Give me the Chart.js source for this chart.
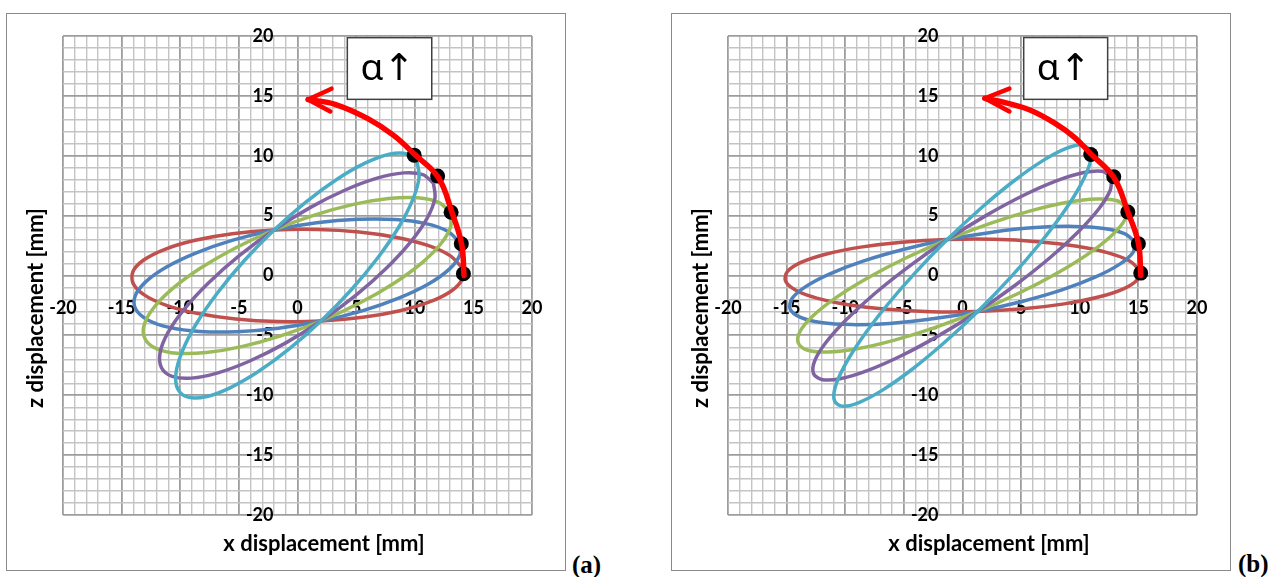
<!DOCTYPE html>
<html>
<head>
<meta charset="utf-8">
<script src="https://cdn.jsdelivr.net/npm/chart.js@4.4.1/dist/chart.umd.min.js"></script>
<style>
  body { margin: 0; background: #fff; width: 1278px; height: 577px; position: relative; overflow: hidden; }
  .panel { position: absolute; top: 13px; width: 560px; height: 558px; }
  .tag { position: absolute; font: bold 25px "Liberation Serif", serif; color: #000; line-height: 25px; }
</style>
</head>
<body>
<div class="panel" style="left:6px"><canvas id="chartA" width="560" height="558"></canvas></div>
<div class="panel" style="left:671px"><canvas id="chartB" width="560" height="558"></canvas></div>
<div class="tag" style="left:572px; top:552px">(a)</div>
<div class="tag" style="left:1238px; top:551px">(b)</div>
<script>
// tick labels on both axes
const xTickLabels = [-20, -15, -10, -5, 0, 5, 10, 15, 20];
const zTickLabels = [20, 15, 10, 5, 0, -5, -10, -15, -20];

// panel (a) loops, [x, z] in mm
const redA = [[14.0,0.7],[13.01,1.66],[11.12,2.51],[8.48,3.18],[5.27,3.64],[1.69,3.85],[-2.0,3.8],[-5.56,3.49],[-8.73,2.94],[-11.31,2.19],[-13.12,1.29],[-14.04,0.31],
    [-14.0,-0.7],[-13.01,-1.66],[-11.12,-2.51],[-8.48,-3.18],[-5.27,-3.64],[-1.69,-3.85],[2.0,-3.8],[5.56,-3.49],[8.73,-2.94],[11.31,-2.19],[13.12,-1.29],[14.04,-0.31],[14.0,0.7]];
const blueA = [[13.8,2.8],[12.81,3.69],[10.95,4.33],[8.34,4.67],[5.17,4.69],[1.64,4.40],[-2.0,3.8],[-5.51,2.95],[-8.63,1.89],[-11.17,0.71],[-12.95,-0.53],[-13.85,-1.72],
    [-13.8,-2.8],[-12.81,-3.69],[-10.95,-4.33],[-8.34,-4.67],[-5.17,-4.69],[-1.64,-4.40],[2.0,-3.8],[5.51,-2.95],[8.63,-1.89],[11.17,-0.71],[12.95,0.53],[13.85,1.72],[13.8,2.8]];
const greenA = [[13.0,5.3],[12.04,6.10],[10.26,6.49],[7.78,6.43],[4.77,5.94],[1.44,5.04],[-2.0,3.8],[-5.30,2.30],[-8.23,0.64],[-10.61,-1.06],[-12.26,-2.69],[-13.08,-4.14],
    [-13.0,-5.3],[-12.04,-6.10],[-10.26,-6.49],[-7.78,-6.43],[-4.77,-5.94],[-1.44,-5.04],[2.0,-3.8],[5.30,-2.30],[8.23,-0.64],[10.61,1.06],[12.26,2.69],[13.08,4.14],[13.0,5.3]];
const purpleA = [[11.6,7.7],[10.69,8.42],[9.05,8.57],[6.79,8.13],[4.07,7.14],[1.07,5.67],[-2.0,3.8],[-4.94,1.68],[-7.53,-0.56],[-9.62,-2.76],[-11.05,-4.77],[-11.72,-6.45],
    [-11.6,-7.7],[-10.69,-8.42],[-9.05,-8.57],[-6.79,-8.13],[-4.07,-7.14],[-1.07,-5.67],[2.0,-3.8],[4.94,-1.68],[7.53,0.56],[9.62,2.76],[11.05,4.77],[11.72,6.45],[11.6,7.7]];
const cyanA = [[10.2,9.5],[9.34,10.16],[7.83,10.13],[5.80,9.40],[3.37,8.04],[0.71,6.13],[-2.0,3.8],[-4.57,1.21],[-6.83,-1.46],[-8.63,-4.03],[-9.83,-6.33],[-10.37,-8.19],
    [-10.2,-9.5],[-9.34,-10.16],[-7.83,-10.13],[-5.80,-9.40],[-3.37,-8.04],[-0.71,-6.13],[2.0,-3.8],[4.57,-1.21],[6.83,1.46],[8.63,4.03],[9.83,6.33],[10.37,8.19],[10.2,9.5]];
const dotsA = [[9.95,10.05],[11.95,8.3],[13.1,5.28],[13.97,2.65],[14.15,0.15]];
const arcA = [[14.2,0.0],[14.0,2.6],[13.2,5.2],[12.0,8.2],[10.0,10.1],[8.2,11.7],[6.0,13.1],[3.2,14.3],[0.9,14.7]];
const headA = [[2.9,15.6],[0.9,14.7],[2.8,13.7]];

// panel (b) loops, [x, z] in mm
const redB = [[15.1,0.45],[14.25,1.21],[12.43,1.89],[9.76,2.44],[6.42,2.82],[2.66,3.02],[-1.3,3.0],[-5.17,2.78],[-8.68,2.37],[-11.60,1.80],[-13.73,1.11],[-14.92,0.34],
    [-15.1,-0.45],[-14.25,-1.21],[-12.43,-1.89],[-9.76,-2.44],[-6.42,-2.82],[-2.66,-3.02],[1.3,-3.0],[5.17,-2.78],[8.68,-2.37],[11.60,-1.80],[13.73,-1.11],[14.92,-0.34],[15.1,0.45]];
const blueB = [[14.7,2.8],[13.86,3.48],[12.08,3.93],[9.47,4.10],[6.22,4.00],[2.55,3.62],[-1.3,3.0],[-5.06,2.17],[-8.48,1.20],[-11.31,0.14],[-13.38,-0.93],[-14.54,-1.93],
    [-14.7,-2.8],[-13.86,-3.48],[-12.08,-3.93],[-9.47,-4.10],[-6.22,-4.00],[-2.55,-3.62],[1.3,-3.0],[5.06,-2.17],[8.48,-1.20],[11.31,-0.14],[13.38,0.93],[14.54,1.93],[14.7,2.8]];
const greenB = [[14.0,5.65],[13.19,6.24],[11.47,6.39],[8.98,6.12],[5.87,5.42],[2.37,4.36],[-1.3,3.0],[-4.88,1.44],[-8.13,-0.23],[-10.82,-1.87],[-12.77,-3.39],[-13.86,-4.68],
    [-14.0,-5.65],[-13.19,-6.24],[-11.47,-6.39],[-8.98,-6.12],[-5.87,-5.42],[-2.37,-4.36],[1.3,-3.0],[4.88,-1.44],[8.13,0.23],[10.82,1.87],[12.77,3.39],[13.86,4.68],[14.0,5.65]];
const purpleB = [[12.7,8.2],[11.93,8.70],[10.35,8.60],[8.06,7.92],[5.22,6.70],[2.03,5.02],[-1.3,3.0],[-4.55,0.77],[-7.48,-1.50],[-9.90,-3.68],[-11.65,-5.60],[-12.61,-7.14],
    [-12.7,-8.2],[-11.93,-8.70],[-10.35,-8.60],[-8.06,-7.92],[-5.22,-6.70],[-2.03,-5.02],[1.3,-3.0],[4.55,-0.77],[7.48,1.50],[9.90,3.68],[11.65,5.60],[12.61,7.14],[12.7,8.2]];
const cyanB = [[10.9,10.5],[10.19,10.92],[8.79,10.59],[6.79,9.55],[4.32,7.85],[1.57,5.62],[-1.3,3.0],[-4.08,0.18],[-6.58,-2.65],[-8.63,-5.30],[-10.09,-7.59],[-10.87,-9.37],
    [-10.9,-10.5],[-10.19,-10.92],[-8.79,-10.59],[-6.79,-9.55],[-4.32,-7.85],[-1.57,-5.62],[1.3,-3.0],[4.08,-0.18],[6.58,2.65],[8.63,5.30],[10.09,7.59],[10.87,9.37],[10.9,10.5]];
const dotsB = [[10.94,10.1],[12.9,8.25],[14.1,5.3],[15.0,2.65],[15.2,0.2]];
const arcB = [[15.2,0.0],[15.0,2.7],[14.1,5.3],[12.9,8.2],[10.9,10.2],[9.6,11.5],[7.9,12.7],[5.8,13.8],[3.8,14.4],[1.9,14.8]];
const headB = [[4.0,15.6],[1.9,14.8],[4.0,13.7]];

const loopColors = ['#C0504D', '#4F81BD', '#9BBB59', '#8064A2', '#4BACC6'];
const pts = arr => arr.map(p => ({ x: p[0], y: p[1] }));

// frame, tick labels, titles and the alpha box
const panelDecor = {
    id: 'panelDecor',
    beforeDraw(chart) {
        const ctx = chart.ctx;
        ctx.save();
        ctx.fillStyle = '#fff';
        ctx.fillRect(0, 0, chart.width, chart.height);
        ctx.restore();
    },
    beforeDatasetsDraw(chart) {
        const ctx = chart.ctx, xs = chart.scales.x, ys = chart.scales.y;
        const x0 = xs.getPixelForValue(0), y0 = ys.getPixelForValue(0);
        ctx.save();
        ctx.font = 'bold 18px Lato';
        ctx.fillStyle = '#000';
        ctx.textBaseline = 'middle';
        ctx.textAlign = 'center';
        xTickLabels.forEach(v => ctx.fillText(String(v), xs.getPixelForValue(v), y0 + 33));
        ctx.textAlign = 'right';
        zTickLabels.forEach(v => ctx.fillText(String(v), x0 - 24, ys.getPixelForValue(v)));
        ctx.restore();
    },
    afterDraw(chart, args, opts) {
        const ctx = chart.ctx, xs = chart.scales.x, ys = chart.scales.y;
        ctx.save();
        // alpha box
        const L = xs.getPixelForValue(opts.box[0]), R = xs.getPixelForValue(opts.box[2]);
        const T = ys.getPixelForValue(opts.box[1]), B = ys.getPixelForValue(opts.box[3]);
        ctx.fillStyle = '#fff';
        ctx.fillRect(L, T, R - L, B - T);
        ctx.strokeStyle = '#404040';
        ctx.lineWidth = 1.5;
        ctx.strokeRect(L, T, R - L, B - T);
        ctx.fillStyle = '#000';
        ctx.font = '37px "Noto Sans", "DejaVu Sans"';
        ctx.textAlign = 'center';
        ctx.textBaseline = 'middle';
        ctx.fillText('α↑', (L + R) / 2 - 2, (T + B) / 2 + 1);
        // axis titles
        ctx.font = 'bold 22px Lato';
        ctx.fillText('x displacement [mm]', 318, 531);
        ctx.translate(30, 295);
        ctx.rotate(-Math.PI / 2);
        ctx.fillText('z displacement [mm]', 0, 0);
        ctx.restore();
        // outer frame
        ctx.save();
        ctx.strokeStyle = '#8a8a8a';
        ctx.lineWidth = 1;
        ctx.strokeRect(0.5, 0.5, chart.width - 1, chart.height - 1);
        ctx.restore();
    }
};

function axis() {
    return {
        type: 'linear', min: -20, max: 20,
        ticks: { stepSize: 1, maxTicksLimit: 41, display: false },
        grid: {
            drawTicks: false,
            color: c => (c.tick && c.tick.value % 5 === 0) ? '#9d9d9d' : '#c4c4c4',
            lineWidth: c => (c.tick && c.tick.value % 5 === 0) ? 1.8 : 1.4
        },
        border: { display: false }
    };
}

function renderPanel(canvasId, loops, dots, arc, head, box) {
    const ctx = document.getElementById(canvasId).getContext('2d');
    const loopSets = loops.map((l, i) => ({
        data: pts(l),
        showLine: true,
        borderColor: loopColors[i],
        borderWidth: 3.5,
        pointRadius: 0,
        tension: 0.33,
        fill: false
    })).reverse();
    return new Chart(ctx, {
        type: 'scatter',
        data: {
            datasets: [
                { data: pts(arc), showLine: true, borderColor: '#FF0000', borderWidth: 5.5, pointRadius: 0, tension: 0.4, borderCapStyle: 'round' },
                { data: pts(head), showLine: true, borderColor: '#FF0000', borderWidth: 4.5, pointRadius: 0, tension: 0, borderCapStyle: 'round', borderJoinStyle: 'round' },
                { data: pts(dots), showLine: false, pointRadius: 7.5, backgroundColor: '#000', borderWidth: 0 },
                ...loopSets
            ]
        },
        options: {
            responsive: false,
            animation: false,
            layout: { padding: { left: 57, right: 34, top: 23, bottom: 56 } },
            plugins: {
                legend: { display: false },
                tooltip: { enabled: false },
                panelDecor: { box: box }
            },
            scales: { x: axis(), y: axis() }
        },
        plugins: [panelDecor]
    });
}

renderPanel('chartA', [redA, blueA, greenA, purpleA, cyanA], dotsA, arcA, headA, [4.25, 19.86, 11.45, 14.71]);
renderPanel('chartB', [redB, blueB, greenB, purpleB, cyanB], dotsB, arcB, headB, [5.22, 19.87, 12.38, 14.71]);
</script>
</body>
</html>
